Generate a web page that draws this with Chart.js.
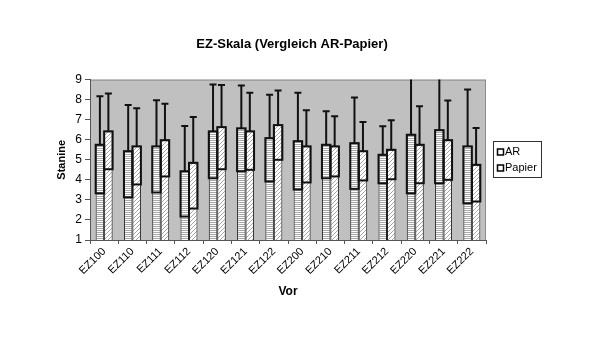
<!DOCTYPE html>
<html>
<head>
<meta charset="utf-8">
<script src="https://cdn.jsdelivr.net/npm/chart.js@4/dist/chart.umd.min.js"></script>
<style>
html,body{margin:0;padding:0;background:#fff;}
#wrap{width:600px;height:338px;}
</style>
</head>
<body>
<div id="wrap"><canvas id="c" width="600" height="338"></canvas></div>
<script>
const categories = ['EZ100','EZ110','EZ111','EZ112','EZ120','EZ121','EZ122','EZ200','EZ210','EZ211','EZ212','EZ220','EZ221','EZ222'];
const seriesNames = ['AR','Papier'];
const arMean  = [5.75,5.43,5.67,4.43,6.42,6.57,6.08,5.93,5.75,5.83,5.25,6.25,6.48,5.67];
const arSd    = [2.42,2.30,2.30,2.26,2.34,2.14,2.16,2.41,1.67,2.28,1.42,2.92,2.65,2.84];
const papMean = [6.42,5.67,5.98,4.85,6.63,6.42,6.73,5.67,5.67,5.43,5.50,5.75,5.98,4.75];
const papSd   = [1.89,1.90,1.81,2.28,2.10,1.92,1.73,1.80,1.50,1.46,1.47,1.92,1.98,1.83];
const yTicks  = [1,2,3,4,5,6,7,8,9];

const FONT = 'Arial, "Liberation Sans", sans-serif';

function makePattern(kind){
  const p = document.createElement('canvas');
  p.width = 4; p.height = 4;
  const g = p.getContext('2d');
  g.fillStyle = '#ffffff';
  g.fillRect(0,0,4,4);
  g.fillStyle = '#a8a8a8';
  if (kind === 'h') {
    g.fillRect(0,0,4,1);
    g.fillRect(0,2,4,1);
  } else {
    for (let i=0;i<4;i++){ g.fillRect((3-i+4)%4, i, 1, 1); }
  }
  return document.getElementById('c').getContext('2d').createPattern(p,'repeat');
}
const patAR = makePattern('h');
const patPap = makePattern('d');

const sdSets = [arSd, papSd];

const bgPlugin = {
  id: 'bg',
  beforeDraw(chart){
    const {ctx, chartArea:a} = chart;
    ctx.save();
    ctx.fillStyle = '#c0c0c0';
    ctx.fillRect(a.left, a.top, a.right-a.left, a.bottom-a.top);
    ctx.strokeStyle = '#8a8a8a';
    ctx.lineWidth = 1;
    ctx.strokeRect(a.left+0.5, a.top+0.5, a.right-a.left-1, a.bottom-a.top);
    ctx.restore();
  }
};

const errPlugin = {
  id: 'err',
  afterDatasetsDraw(chart){
    const {ctx, chartArea:a} = chart;
    const y = chart.scales.y;
    ctx.save();
    ctx.beginPath();
    ctx.rect(a.left-2, a.top, a.right-a.left+4, a.bottom-a.top);
    ctx.clip();
    ctx.strokeStyle = '#111';
    ctx.lineWidth = 2;
    chart.data.datasets.forEach((ds, di) => {
      const meta = chart.getDatasetMeta(di);
      meta.data.forEach((bar, i) => {
        const m = ds.data[i], s = sdSets[di][i];
        const yTop = y.getPixelForValue(m);
        const yLow = y.getPixelForValue(m - s);
        const yHi = y.getPixelForValue(m + s);
        const w = bar.width;
        const x0 = bar.x - w/2;
        ctx.strokeRect(x0, yTop, w, yLow - yTop);
        ctx.beginPath();
        ctx.moveTo(bar.x, yTop);
        ctx.lineTo(bar.x, yHi);
        ctx.moveTo(bar.x - 3.5, yHi);
        ctx.lineTo(bar.x + 3.5, yHi);
        ctx.stroke();
      });
    });
    ctx.restore();
  }
};

const legendPlugin = {
  id: 'customLegend',
  afterDraw(chart){
    const ctx = chart.ctx;
    ctx.save();
    ctx.strokeStyle = '#333';
    ctx.lineWidth = 1;
    ctx.strokeRect(493.5, 141.5, 48, 36);
    ctx.font = '11px ' + FONT;
    ctx.textBaseline = 'middle';
    ctx.fillStyle = '#000';
    const rows = [152, 168];
    seriesNames.forEach((n, i) => {
      ctx.fillStyle = '#fff';
      ctx.fillRect(497.5, rows[i]-3, 6, 6);
      ctx.lineWidth = 1.5;
      ctx.strokeStyle = '#000';
      ctx.strokeRect(497.5, rows[i]-3, 6, 6);
      ctx.fillStyle = '#000';
      ctx.fillText(n, 505, rows[i]);
    });
    ctx.restore();
  }
};

new Chart(document.getElementById('c'), {
  type: 'bar',
  data: {
    labels: categories,
    datasets: [
      { label: seriesNames[0], data: arMean, backgroundColor: patAR, borderColor: '#222', borderWidth: 1, barPercentage: 1.0, categoryPercentage: 0.6 },
      { label: seriesNames[1], data: papMean, backgroundColor: patPap, borderColor: '#222', borderWidth: 1, barPercentage: 1.0, categoryPercentage: 0.6 }
    ]
  },
  options: {
    responsive: false,
    animation: false,
    devicePixelRatio: 1,
    layout: { padding: { left: 0, right: 16, top: 0, bottom: 39 } },
    plugins: {
      legend: { display: false },
      tooltip: { enabled: false },
      title: {
        display: true,
        text: 'EZ-Skala (Vergleich AR-Papier)',
        color: '#000',
        font: { family: FONT, size: 13, weight: 'bold' },
        padding: { top: 37, bottom: 27 }
      }
    },
    scales: {
      x: {
        grid: { drawOnChartArea: false, offset: true, tickLength: 4, color: '#555' },
        border: { color: '#555', width: 1 },
        ticks: { color: '#000', font: { family: FONT, size: 11 }, maxRotation: 45, minRotation: 45, padding: 1, autoSkip: false },
        title: { display: true, text: 'Vor', color: '#000', font: { family: FONT, size: 12, weight: 'bold' }, padding: { top: 2, bottom: 0 } },
        afterFit(s){ s.height = 59; }
      },
      y: {
        min: yTicks[0],
        max: yTicks[yTicks.length-1],
        afterBuildTicks(s){ s.ticks = yTicks.map(v => ({ value: v })); },
        grid: { drawOnChartArea: false, tickLength: 5, color: '#555' },
        border: { color: '#555', width: 1 },
        ticks: { color: '#000', font: { family: FONT, size: 12 }, padding: 3 },
        title: { display: true, text: 'Stanine', color: '#000', font: { family: FONT, size: 11, weight: 'bold' }, padding: { top: 55, bottom: 0 } },
        afterFit(s){ s.width = 90; }
      },
      yRight: {
        type: 'linear',
        position: 'right',
        display: true,
        grid: { display: false },
        border: { display: false },
        ticks: { display: false },
        afterFit(s){ s.width = 98; }
      }
    }
  },
  plugins: [bgPlugin, errPlugin, legendPlugin]
});
</script>
</body>
</html>
